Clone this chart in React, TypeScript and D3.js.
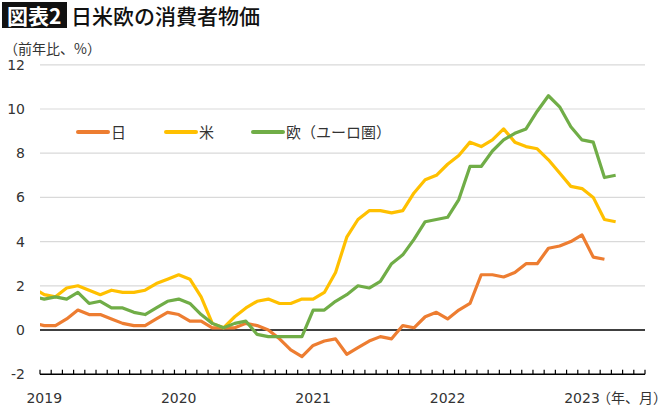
import * as d3 from 'd3';

// months from Dec 2018 (index -1) to Apr 2023
const startIndex = -1;
const japan = [
  0.3, 0.2, 0.2, 0.5, 0.9, 0.7, 0.7, 0.5, 0.3, 0.2, 0.2, 0.5, 0.8,
  0.7, 0.4, 0.4, 0.1, 0.1, 0.1, 0.3, 0.2, 0.0, -0.4, -0.9, -1.2,
  -0.7, -0.5, -0.4, -1.1, -0.8, -0.5, -0.3, -0.4, 0.2, 0.1, 0.6, 0.8,
  0.5, 0.9, 1.2, 2.5, 2.5, 2.4, 2.6, 3.0, 3.0, 3.7, 3.8, 4.0,
  4.3, 3.3, 3.2,
];
const usa = [
  1.9, 1.6, 1.5, 1.9, 2.0, 1.8, 1.6, 1.8, 1.7, 1.7, 1.8, 2.1, 2.3,
  2.5, 2.3, 1.5, 0.3, 0.1, 0.6, 1.0, 1.3, 1.4, 1.2, 1.2, 1.4,
  1.4, 1.7, 2.6, 4.2, 5.0, 5.4, 5.4, 5.3, 5.4, 6.2, 6.8, 7.0,
  7.5, 7.9, 8.5, 8.3, 8.6, 9.1, 8.5, 8.3, 8.2, 7.7, 7.1, 6.5,
  6.4, 6.0, 5.0, 4.9,
];
const euro = [
  1.5, 1.4, 1.5, 1.4, 1.7, 1.2, 1.3, 1.0, 1.0, 0.8, 0.7, 1.0, 1.3,
  1.4, 1.2, 0.7, 0.3, 0.1, 0.3, 0.4, -0.2, -0.3, -0.3, -0.3, -0.3,
  0.9, 0.9, 1.3, 1.6, 2.0, 1.9, 2.2, 3.0, 3.4, 4.1, 4.9, 5.0,
  5.1, 5.9, 7.4, 7.4, 8.1, 8.6, 8.9, 9.1, 9.9, 10.6, 10.1, 9.2,
  8.6, 8.5, 6.9, 7.0,
];
const seriesNames = ['日', '米', '欧（ユーロ圏）'];
const seriesColors = ['#ED7D31', '#FFC000', '#70AD47'];
const yTicks = [-2, 0, 2, 4, 6, 8, 10, 12];
const yearLabels = ['2019', '2020', '2021', '2022', '2023'];
const totalMonths = 54;
const pointOffset = 0.38;

const W = 670;
const H = 408;
const PLOT = { left: 40, right: 645, top: 64.8, bottom: 374.2 };
const NUM_FONT = "'DejaVu Sans', 'Noto Sans CJK JP', sans-serif";
const JP_FONT = "'Noto Sans CJK JP', sans-serif";

export default function App() {
  const x = d3.scaleLinear().domain([0, totalMonths]).range([PLOT.left, PLOT.right]);
  const y = d3.scaleLinear().domain([-2, 12]).range([PLOT.bottom, PLOT.top]);

  const line = d3
    .line<number>()
    .x((_, i) => x(i + startIndex + pointOffset))
    .y((d) => y(d));

  const allSeries = [japan, usa, euro];
  const months = d3.range(0, totalMonths + 1);

  return (
    <svg
      width={W}
      height={H}
      style={{ position: 'absolute', left: 0, top: 0, background: '#fff' }}
    >
      <defs>
        <clipPath id="plot-clip">
          <rect x={PLOT.left} y={0} width={PLOT.right - PLOT.left} height={H} />
        </clipPath>
      </defs>

      {/* Title */}
      <rect x={2} y={2} width={65} height={26} fill="#111" />
      <text x={7} y={24} fill="#fff" fontSize={21} fontWeight="bold" fontFamily={JP_FONT}>
        図表2
      </text>
      <text x={71} y={24} fill="#111" fontSize={21} fontWeight={500} fontFamily={JP_FONT}>
        日米欧の消費者物価
      </text>
      <text x={4} y={54} fill="#333" fontSize={14} fontFamily={JP_FONT}>
        （前年比、%）
      </text>

      {/* Grid */}
      {yTicks.filter((t) => t > 0).map((t) => (
        <line
          key={t}
          x1={PLOT.left}
          x2={PLOT.right}
          y1={y(t)}
          y2={y(t)}
          stroke="#d9d9d9"
          strokeWidth={1.2}
        />
      ))}
      {yTicks.map((t) => (
        <text
          key={'yl' + t}
          x={25}
          y={y(t) + 5}
          textAnchor="end"
          fontSize={14}
          fill="#333"
          fontFamily={NUM_FONT}
        >
          {t}
        </text>
      ))}

      {/* zero line */}
      <line x1={PLOT.left} x2={PLOT.right} y1={y(0)} y2={y(0)} stroke="#000" strokeWidth={1.5} />

      {/* x axis */}
      <line
        x1={PLOT.left}
        x2={PLOT.right}
        y1={y(-2)}
        y2={y(-2)}
        stroke="#000"
        strokeWidth={1.5}
      />
      {months.map((m) => (
        <line
          key={'t' + m}
          x1={x(m)}
          x2={x(m)}
          y1={y(-2)}
          y2={y(-2) - 4.5}
          stroke="#000"
          strokeWidth={1.2}
        />
      ))}
      {yearLabels.map((lab, i) => (
        <text
          key={lab}
          x={x(i * 12 + pointOffset)}
          y={403}
          textAnchor="middle"
          fontSize={14}
          fill="#333"
          fontFamily={NUM_FONT}
        >
          {lab}
        </text>
      ))}
      <text x={597} y={403} fontSize={14} fill="#333" fontFamily={JP_FONT}>
        （年、月）
      </text>

      {/* Lines */}
      <g clipPath="url(#plot-clip)">
        {allSeries.map((s, k) => (
          <path
            key={k}
            d={line(s) || ''}
            fill="none"
            stroke={seriesColors[k]}
            strokeWidth={3.2}
            strokeLinejoin="round"
          />
        ))}
      </g>

      {/* Legend */}
      {seriesNames.map((name, k) => {
        const lx = [78, 166, 253][k];
        return (
          <g key={name}>
            <line
              x1={lx}
              x2={lx + 30}
              y1={132}
              y2={132}
              stroke={seriesColors[k]}
              strokeWidth={4}
              strokeLinecap="round"
            />
            <text x={lx + 33} y={138} fontSize={15} fill="#333" fontFamily={JP_FONT}>
              {name}
            </text>
          </g>
        );
      })}
    </svg>
  );
}
